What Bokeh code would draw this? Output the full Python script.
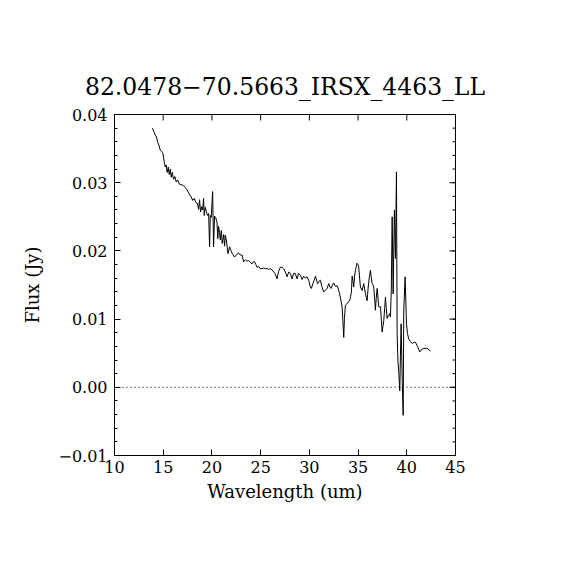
import numpy as np
from bokeh.plotting import figure
from bokeh.models import Range1d, LinearAxis, FixedTicker, Span
from bokeh.embed import file_html
from bokeh.resources import INLINE

title_text = "82.0478\u221270.5663_IRSX_4463_LL"
x_label = "Wavelength (um)"
y_label = "Flux (Jy)"

xticks = [10, 15, 20, 25, 30, 35, 40, 45]
xtick_labels = ["10", "15", "20", "25", "30", "35", "40", "45"]
yticks = [-0.01, 0.0, 0.01, 0.02, 0.03, 0.04]
ytick_labels = ["\u22120.01", "0.00", "0.01", "0.02", "0.03", "0.04"]
yminor = [round(-0.01 + 0.002 * i, 3) for i in range(26)]

wavelength = [
    13.90, 14.03, 14.18, 14.31, 14.42, 14.56, 14.69, 14.83, 14.97, 15.11,
    15.21, 15.31, 15.41, 15.52, 15.62, 15.72, 15.82, 15.93, 16.06, 16.20,
    16.34, 16.49, 16.65, 16.85, 17.06, 17.26, 17.42, 17.57, 17.73, 17.88,
    18.03, 18.19, 18.34, 18.50, 18.63, 18.73, 18.83, 18.96, 19.06, 19.14,
    19.21, 19.32, 19.42, 19.55, 19.66, 19.76, 19.83, 19.93, 20.07, 20.17,
    20.27, 20.38, 20.52, 20.60, 20.68, 20.78, 20.86, 20.96, 21.06, 21.20,
    21.30, 21.37, 21.48, 21.65, 21.81, 21.94, 22.09, 22.33, 22.55, 22.74,
    22.91, 23.09, 23.25, 23.43, 23.58, 23.77, 23.94, 24.12, 24.25, 24.38,
    24.51, 24.63, 24.81, 24.97, 25.14, 25.33, 25.48, 25.66, 25.84, 26.00,
    26.17, 26.36, 26.51, 26.68, 26.85, 27.02, 27.18, 27.36, 27.54, 27.71,
    27.88, 28.05, 28.22, 28.39, 28.56, 28.74, 28.90, 29.08, 29.25, 29.42,
    29.59, 29.77, 29.93, 30.10, 30.21, 30.36, 30.55, 30.62, 30.74, 30.85,
    30.98, 31.13, 31.28, 31.47, 31.65, 31.82, 31.99, 32.11, 32.23, 32.37,
    32.50, 32.68, 32.85, 32.98, 33.11, 33.24, 33.36, 33.44, 33.53, 33.60,
    33.70, 33.82, 33.94, 34.04, 34.14, 34.23, 34.32, 34.39, 34.47, 34.55,
    34.64, 34.73, 34.81, 34.90, 34.98, 35.07, 35.16, 35.24, 35.42, 35.58,
    35.76, 35.93, 36.01, 36.09, 36.18, 36.27, 36.35, 36.44, 36.52, 36.61,
    36.70, 36.78, 36.86, 36.96, 37.04, 37.12, 37.21, 37.30, 37.38, 37.47,
    37.55, 37.64, 37.73, 37.81, 37.89, 37.98, 38.07, 38.15, 38.25, 38.32,
    38.41, 38.50, 38.60, 38.73, 38.84, 38.94, 39.01, 39.09, 39.18, 39.28,
    39.35, 39.42, 39.53, 39.63, 39.69, 39.83, 39.97, 40.07, 40.20, 40.38,
    40.55, 40.72, 40.89, 41.10, 41.33, 41.56, 41.74, 41.92, 42.09, 42.28,
    42.43,
]

flux = [
    0.0380, 0.0375, 0.0370, 0.0367, 0.0360, 0.0355, 0.0348, 0.0346, 0.0343, 0.0330,
    0.0323, 0.0326, 0.0315, 0.0323, 0.0312, 0.0320, 0.0308, 0.0315, 0.0305, 0.0309,
    0.0301, 0.0304, 0.0298, 0.0297, 0.0296, 0.0293, 0.0290, 0.0286, 0.0282, 0.0279,
    0.0274, 0.0277, 0.0271, 0.0270, 0.0261, 0.0275, 0.0257, 0.0265, 0.0260, 0.0277,
    0.0252, 0.0264, 0.0258, 0.0252, 0.0255, 0.0206, 0.0252, 0.0249, 0.0287, 0.0206,
    0.0251, 0.0249, 0.0242, 0.0218, 0.0236, 0.0227, 0.0216, 0.0230, 0.0211, 0.0224,
    0.0207, 0.0223, 0.0216, 0.0196, 0.0206, 0.0201, 0.0196, 0.0191, 0.0195, 0.0197,
    0.0194, 0.0194, 0.0184, 0.0187, 0.0185, 0.0186, 0.0183, 0.0181, 0.0184, 0.0184,
    0.0180, 0.0176, 0.0177, 0.0174, 0.0174, 0.0175, 0.0174, 0.0174, 0.0173, 0.0174,
    0.0172, 0.0169, 0.0166, 0.0159, 0.0170, 0.0176, 0.0176, 0.0174, 0.0169, 0.0162,
    0.0169, 0.0167, 0.0159, 0.0167, 0.0167, 0.0159, 0.0167, 0.0164, 0.0158, 0.0163,
    0.0160, 0.0162, 0.0157, 0.0147, 0.0145, 0.0152, 0.0159, 0.0163, 0.0157, 0.0152,
    0.0155, 0.0157, 0.0148, 0.0140, 0.0142, 0.0145, 0.0152, 0.0147, 0.0145, 0.0150,
    0.0153, 0.0148, 0.0149, 0.0144, 0.0137, 0.0127, 0.0118, 0.0098, 0.0073, 0.0101,
    0.0120, 0.0122, 0.0124, 0.0126, 0.0127, 0.0133, 0.0140, 0.0163, 0.0157, 0.0147,
    0.0163, 0.0171, 0.0177, 0.0182, 0.0180, 0.0176, 0.0160, 0.0147, 0.0142, 0.0152,
    0.0137, 0.0127, 0.0142, 0.0154, 0.0164, 0.0172, 0.0161, 0.0152, 0.0151, 0.0147,
    0.0130, 0.0113, 0.0130, 0.0145, 0.0132, 0.0118, 0.0118, 0.0118, 0.0101, 0.0081,
    0.0089, 0.0098, 0.0116, 0.0132, 0.0117, 0.0101, 0.0105, 0.0105, 0.0108, 0.0103,
    0.0142, 0.0250, 0.0137, 0.0260, 0.0189, 0.0316, 0.0079, 0.0039, 0.0022, -0.0005,
    0.0047, 0.0093, 0.0010, -0.0041, 0.0113, 0.0162, 0.0093, 0.0079, 0.0071, 0.0067,
    0.0064, 0.0066, 0.0066, 0.0060, 0.0052, 0.0056, 0.0057, 0.0057, 0.0057, 0.0055,
    0.0053,
]

FONT = "DejaVu Serif"
X0, X1 = 10, 45
Y0, Y1 = -0.01, 0.04

p = figure(width=562, height=562, output_backend="svg", toolbar_location=None,
           x_range=Range1d(X0, X1), y_range=Range1d(Y0, Y1),
           min_border_left=114, min_border_right=107,
           min_border_top=114, min_border_bottom=107,
           x_axis_location=None, y_axis_location=None)
p.grid.visible = False
p.outline_line_color = "black"
p.outline_line_width = 1
p.background_fill_color = "white"
p.border_fill_color = "white"

p.title.text = title_text
p.title.text_font = FONT
p.title.text_font_size = "23.5px"
p.title.text_font_style = "normal"
p.title.text_color = "black"
p.title.align = "center"
p.title.standoff = 28

xt = FixedTicker(ticks=xticks, minor_ticks=[])
yt = FixedTicker(ticks=yticks, minor_ticks=yminor)

def style(ax):
    ax.axis_line_color = "black"
    ax.major_tick_line_color = "black"
    ax.minor_tick_line_color = "black"
    ax.major_tick_in = 6
    ax.major_tick_out = 0
    ax.minor_tick_in = 3
    ax.minor_tick_out = 0
    ax.major_label_text_font = FONT
    ax.major_label_text_font_size = "16px"
    ax.major_label_text_color = "black"
    ax.axis_label_text_font = FONT
    ax.axis_label_text_font_style = "normal"
    ax.axis_label_text_font_size = "18px"
    ax.axis_label_text_color = "black"

bx = LinearAxis(ticker=xt, axis_label=x_label,
                major_label_overrides={v: s for v, s in zip(xticks, xtick_labels)})
style(bx)
bx.major_label_standoff = 5
bx.axis_label_standoff = 5
p.add_layout(bx, "below")

lx = LinearAxis(ticker=yt, axis_label=y_label,
                major_label_overrides={v: s for v, s in zip(yticks, ytick_labels)})
style(lx)
lx.major_label_standoff = 7
lx.axis_label_standoff = 12
p.add_layout(lx, "left")

# mirrored tick marks on the top and right frame edges
p.ray(x=xticks, y=Y1, length=6, length_units="screen", angle=-np.pi / 2,
      line_color="black", line_width=1)
p.ray(x=X1, y=yticks, length=6, length_units="screen", angle=np.pi,
      line_color="black", line_width=1)
p.ray(x=X1, y=yminor, length=3, length_units="screen", angle=np.pi,
      line_color="black", line_width=1)

p.add_layout(Span(location=0, dimension="width", line_color="black",
                  line_width=1, line_dash="1 3"))

p.line(wavelength, flux, line_color="black", line_width=1)

open("out.html", "w").write(file_html(p, INLINE))
